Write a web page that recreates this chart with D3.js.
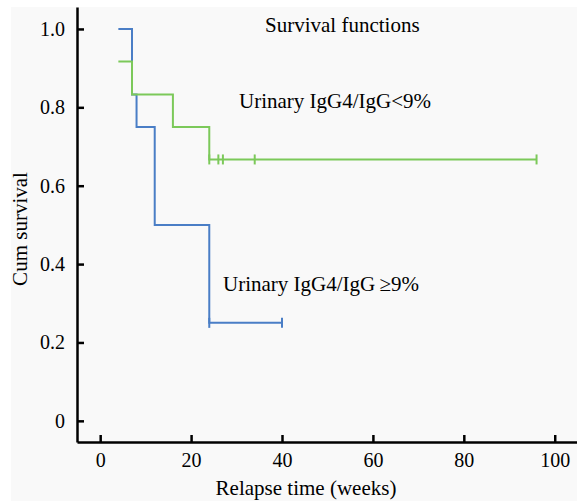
<!DOCTYPE html>
<html lang="en">
<head>
  <meta charset="UTF-8">
  <title>Survival functions</title>
  <script src="https://d3js.org/d3.v7.min.js"></script>
</head>
<body style="margin:0;background:#fff">
  <svg width="577" height="501"></svg>
  <script>
    // Kaplan-Meier steps (weeks, cum survival)
    const highTimes = [4, 7, 8, 12, 24, 40];
    const highSurv = [1.0, 0.833, 0.75, 0.5, 0.25, 0.25];
    const highCensored = [24, 40];

    const lowTimes = [4, 7, 16, 24, 96];
    const lowSurv = [0.917, 0.833, 0.75, 0.667, 0.667];
    const lowCensored = [24, 26, 27, 34, 96];

    const xTicks = [0, 20, 40, 60, 80, 100];
    const yTicks = [0, 0.2, 0.4, 0.6, 0.8, 1.0];

    const FONT = '"Liberation Serif", "Times New Roman", serif';
    const svg = d3.select('svg');

    // Plot panel background
    svg.append('rect')
      .attr('x', 11).attr('y', 7)
      .attr('width', 566).attr('height', 494)
      .attr('fill', '#f9f9f9');

    const x = d3.scaleLinear().domain([-5.1, 104.9]).range([77, 577]);
    const y = d3.scaleLinear().domain([-0.054, 1.056]).range([442, 7]);

    // Axes with inward ticks
    const yAxis = svg.append('g')
      .attr('transform', 'translate(77,0)')
      .call(d3.axisLeft(y).tickValues(yTicks).tickSizeInner(-7).tickSizeOuter(0)
        .tickPadding(12).tickFormat(d => d === 0 ? '0' : d3.format('.1f')(d)));

    const xAxis = svg.append('g')
      .attr('transform', 'translate(0,442)')
      .call(d3.axisBottom(x).tickValues(xTicks).tickSizeInner(-7).tickSizeOuter(0)
        .tickPadding(11));

    [xAxis, yAxis].forEach(g => {
      g.select('.domain').attr('stroke', '#000').attr('stroke-width', 2.5);
      g.selectAll('.tick line').attr('stroke', '#000').attr('stroke-width', 2.5);
      g.selectAll('.tick text')
        .attr('fill', '#000')
        .style('font-family', FONT)
        .style('font-size', '20px');
    });

    const line = d3.line()
      .x(d => x(d[0]))
      .y(d => y(d[1]))
      .curve(d3.curveStepAfter);

    const groups = [
      { times: highTimes, surv: highSurv, cens: highCensored, color: '#4a7ec6' },
      { times: lowTimes, surv: lowSurv, cens: lowCensored, color: '#7cc95a' }
    ];

    groups.forEach(g => {
      const pts = g.times.map((t, i) => [t, g.surv[i]]);
      svg.append('path')
        .attr('d', line(pts))
        .attr('fill', 'none')
        .attr('stroke', g.color)
        .attr('stroke-width', 2);

      // Censoring marks
      const lastSurv = g.surv[g.surv.length - 1];
      svg.append('g')
        .selectAll('line')
        .data(g.cens)
        .join('line')
        .attr('x1', d => x(d)).attr('x2', d => x(d))
        .attr('y1', y(lastSurv) - 5).attr('y2', y(lastSurv) + 5)
        .attr('stroke', g.color)
        .attr('stroke-width', 2);
    });

    // Titles and labels
    const label = (tx, ty, str, anchor) => svg.append('text')
      .attr('x', tx).attr('y', ty)
      .attr('text-anchor', anchor || 'start')
      .style('font-family', FONT)
      .style('font-size', '21px')
      .text(str);

    label(265, 32, 'Survival functions');
    label(239, 108, 'Urinary IgG4/IgG<9%');
    label(223, 291, 'Urinary IgG4/IgG\u2009\u22659%');
    label(306, 495, 'Relapse time (weeks)', 'middle');

    svg.append('text')
      .attr('transform', 'translate(27,229) rotate(-90)')
      .attr('text-anchor', 'middle')
      .style('font-family', FONT)
      .style('font-size', '21px')
      .text('Cum survival');
  </script>
</body>
</html>
